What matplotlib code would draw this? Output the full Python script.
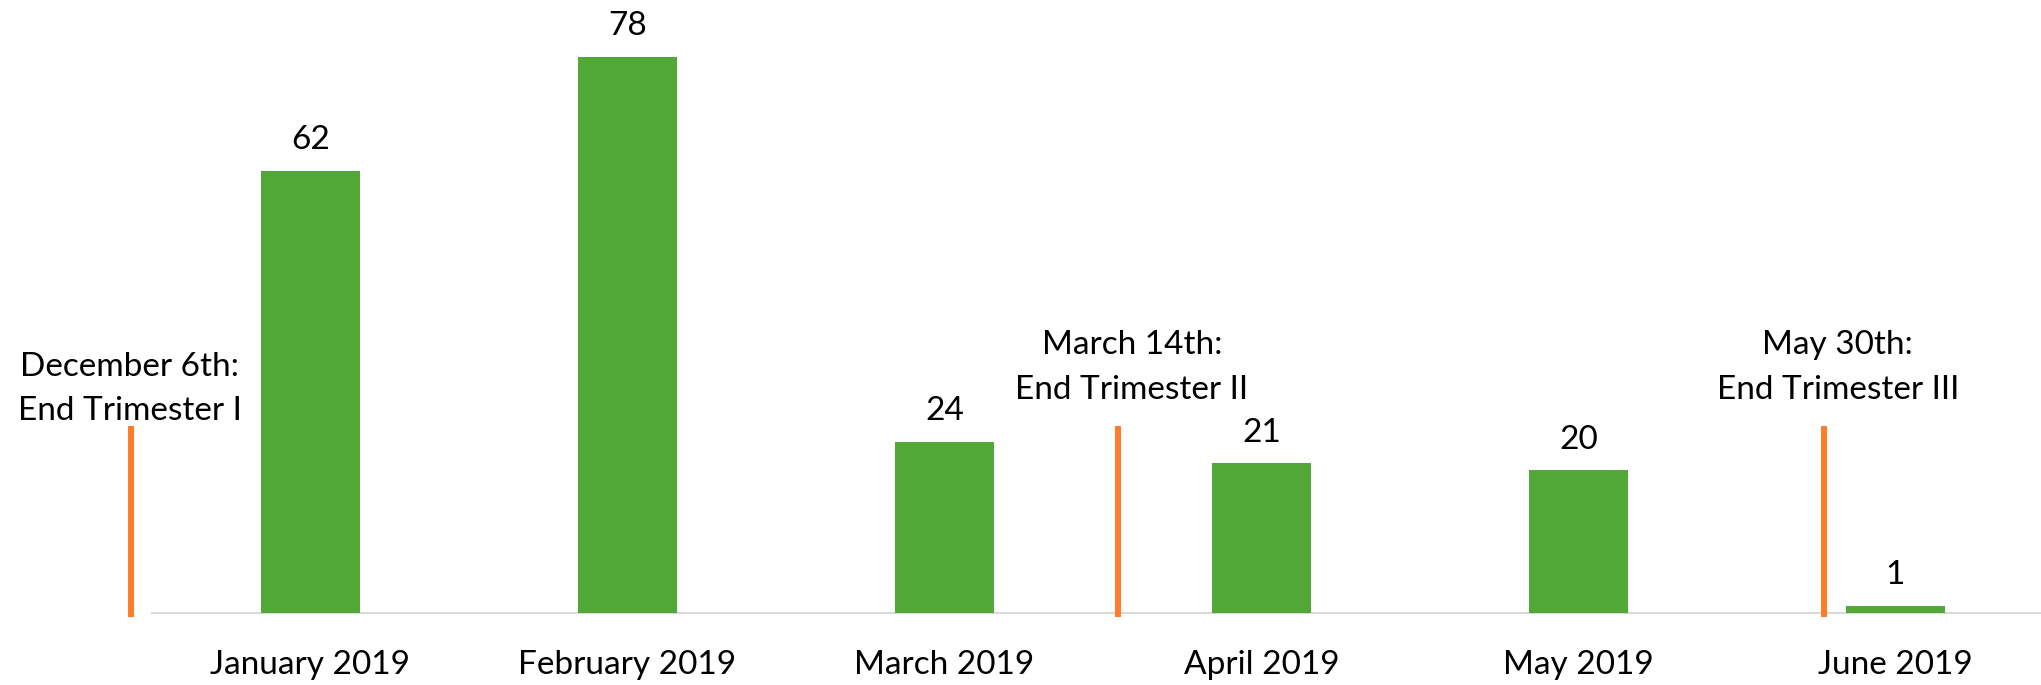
import matplotlib
matplotlib.use('Agg')
import matplotlib.pyplot as plt
import numpy as np

# data
months = ['January 2019', 'February 2019', 'March 2019',
          'April 2019', 'May 2019', 'June 2019']
counts = [62, 78, 24, 21, 20, 1]

# trimester markers: position between categories, label text
marker_pos = [-0.565, 2.546, 4.773]
marker_labels = ['December 6th:\nEnd Trimester I',
                 'March 14th:\nEnd Trimester II',
                 'May 30th:\nEnd Trimester III']
marker_top = 26.2

GREEN = '#52A836'
ORANGE = '#FF7C2B'
GRID = '#D9D9D9'
FS = 24

plt.rcParams['font.family'] = ['Lato', 'DejaVu Sans']

fig = plt.figure(figsize=(20.41, 6.85), dpi=100)
ax = fig.add_axes([152 / 2041, 72 / 685, 1902 / 2041, 606 / 685])

x = np.arange(len(months))
bars = ax.bar(x, counts, width=0.315, color=GREEN, zorder=3)

ax.set_xlim(-0.5, 5.5)
ax.set_ylim(0, 85)

# value labels
for xi, v in zip(x, counts):
    ax.text(xi, v + 2.2, str(v), ha='center', va='bottom',
            fontsize=FS, color='black')

# trimester lines + text
for i, (p, lab) in enumerate(zip(marker_pos, marker_labels)):
    ax.plot([p, p], [-0.56, marker_top], color=ORANGE, lw=4.3,
            solid_capstyle='butt', clip_on=False, zorder=4)
    if i == 0:
        tx, ty = p - 0.005, 26.2
    else:
        tx, ty = p + 0.045, 29.2
    ax.text(tx, ty, lab, ha='center', va='bottom', fontsize=FS,
            linespacing=1.6, clip_on=False)

# baseline only
for s in ['top', 'right', 'left']:
    ax.spines[s].set_visible(False)
ax.spines['bottom'].set_color(GRID)
ax.spines['bottom'].set_linewidth(1.5)
ax.set_yticks([])
ax.set_xticks(x)
ax.set_xticklabels(months, fontsize=FS)
ax.tick_params(axis='x', length=0, pad=27)

fig.savefig('out.png', dpi=100, facecolor='white')
